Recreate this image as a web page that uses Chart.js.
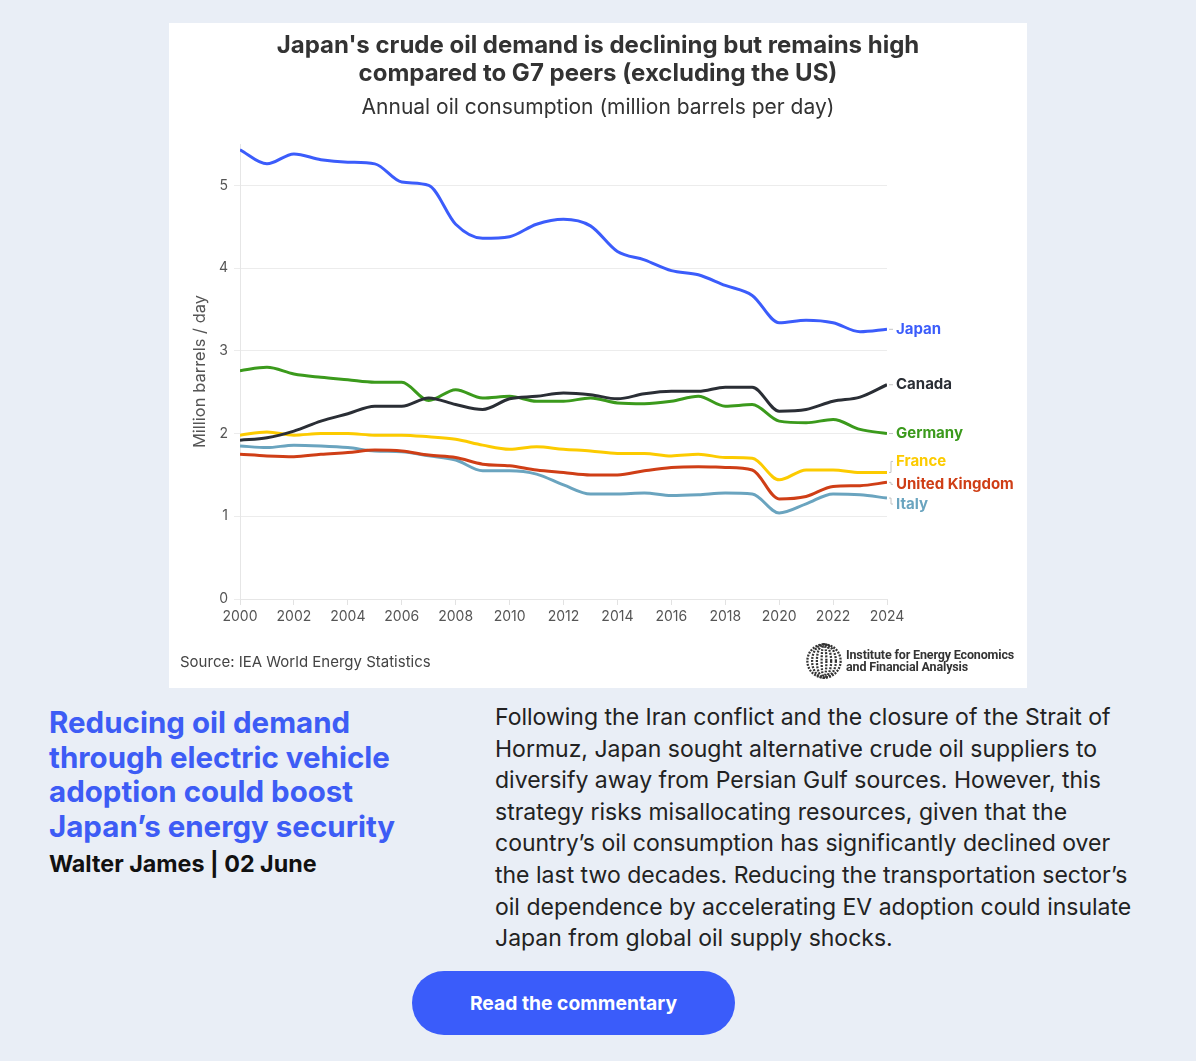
<!DOCTYPE html>
<html>
<head>
<meta charset="utf-8">
<script src="https://cdn.jsdelivr.net/npm/chart.js@4.4.1/dist/chart.umd.min.js"></script>
<style>
  body { margin: 0; width: 1196px; height: 1061px; background: #e9eef6; font-family: Inter, "Noto Sans", sans-serif; position: relative; overflow: hidden; }
  .card { position: absolute; left: 169px; top: 23px; width: 858px; height: 665px; background: #fff; }
  .chart-box { position: absolute; left: 0; top: 0; width: 858px; height: 640px; }
  .title { position: absolute; left: 0; top: 8px; width: 858px; text-align: center; font-size: 24px; line-height: 28px; font-weight: 700; color: #333; }
  .subtitle { position: absolute; left: 0; top: 71px; width: 858px; text-align: center; font-size: 21px; line-height: 26px; color: #333; }
  .source { position: absolute; left: 11px; top: 629px; font-size: 15px; color: #444; }
  .logo { position: absolute; left: 636px; top: 619px; width: 38px; height: 38px; }
  .logo-text { position: absolute; left: 677px; top: 626px; font-family: Roboto, sans-serif; font-weight: 700; font-size: 12.5px; line-height: 12px; color: #333; letter-spacing: -0.15px; }
  .headline { position: absolute; left: 49px; top: 705px; font-size: 29.5px; line-height: 34.5px; font-weight: 700; color: #3d5cf5; }
  .byline { position: absolute; left: 49px; top: 849px; font-size: 23.3px; font-weight: 700; color: #111; }
  .blurb { position: absolute; left: 495px; top: 702px; font-size: 23px; line-height: 31.6px; color: #222; white-space: nowrap; }
  .btn { position: absolute; left: 412px; top: 971px; width: 323px; height: 64px; border-radius: 32px; background: #3a5cfa; color: #fff; font-weight: 700; font-size: 19.3px; display: flex; align-items: center; justify-content: center; }
</style>
</head>
<body>
<div class="card">
  <div class="chart-box"><canvas id="myChart"></canvas></div>
  <div class="title">Japan's crude oil demand is declining but remains high<br>compared to G7 peers (excluding the US)</div>
  <div class="subtitle">Annual oil consumption (million barrels per day)</div>
  <div class="source">Source: IEA World Energy Statistics</div>
  <svg class="logo" viewBox="0 0 40 40">
    <g fill="none" stroke="#333" stroke-width="2.4" stroke-dasharray="2 1.3">
      <ellipse cx="20" cy="20" rx="17.5" ry="17.5"/>
      <ellipse cx="20" cy="20" rx="12.5" ry="17.5"/>
      <ellipse cx="20" cy="20" rx="7.5" ry="17.5"/>
      <ellipse cx="20" cy="20" rx="2.5" ry="17.5"/>
    </g>
  </svg>
  <div class="logo-text">Institute for Energy Economics<br>and Financial Analysis</div>
</div>

<div class="headline">Reducing oil demand<br>through electric vehicle<br>adoption could boost<br>Japan’s energy security</div>
<div class="byline">Walter James | 02 June</div>
<div class="blurb">Following the Iran conflict and the closure of the Strait of<br>Hormuz, Japan sought alternative crude oil suppliers to<br>diversify away from Persian Gulf sources. However, this<br>strategy risks misallocating resources, given that the<br>country’s oil consumption has significantly declined over<br>the last two decades. Reducing the transportation sector’s<br>oil dependence by accelerating EV adoption could insulate<br>Japan from global oil supply shocks.</div>
<div class="btn">Read the commentary</div>

<script>
const years = [2000, 2001, 2002, 2003, 2004, 2005, 2006, 2007, 2008, 2009, 2010, 2011, 2012,
               2013, 2014, 2015, 2016, 2017, 2018, 2019, 2020, 2021, 2022, 2023, 2024];

const japan   = [5.43, 5.26, 5.38, 5.31, 5.28, 5.26, 5.04, 5.00, 4.53, 4.36, 4.38, 4.53, 4.59,
                 4.51, 4.20, 4.10, 3.97, 3.92, 3.79, 3.67, 3.34, 3.37, 3.34, 3.23, 3.26];
const canada  = [1.92, 1.95, 2.03, 2.15, 2.24, 2.33, 2.33, 2.43, 2.35, 2.29, 2.42, 2.45, 2.49,
                 2.47, 2.42, 2.48, 2.51, 2.51, 2.56, 2.56, 2.27, 2.29, 2.39, 2.44, 2.59];
const germany = [2.76, 2.80, 2.72, 2.68, 2.65, 2.62, 2.62, 2.40, 2.53, 2.43, 2.45, 2.39, 2.39,
                 2.43, 2.37, 2.36, 2.39, 2.45, 2.33, 2.35, 2.15, 2.13, 2.17, 2.05, 2.00];
const france  = [1.98, 2.02, 1.98, 2.00, 2.00, 1.98, 1.98, 1.96, 1.93, 1.86, 1.81, 1.84, 1.81,
                 1.79, 1.76, 1.76, 1.73, 1.75, 1.71, 1.70, 1.44, 1.56, 1.56, 1.53, 1.53];
const uk      = [1.75, 1.73, 1.72, 1.75, 1.77, 1.80, 1.79, 1.74, 1.71, 1.63, 1.61, 1.56, 1.53,
                 1.50, 1.50, 1.55, 1.59, 1.60, 1.59, 1.56, 1.21, 1.24, 1.36, 1.37, 1.41];
const italy   = [1.85, 1.83, 1.86, 1.85, 1.83, 1.79, 1.78, 1.73, 1.68, 1.55, 1.55, 1.51, 1.38,
                 1.27, 1.27, 1.28, 1.25, 1.26, 1.28, 1.27, 1.04, 1.15, 1.27, 1.26, 1.22];

const xTicks = [2000, 2002, 2004, 2006, 2008, 2010, 2012, 2014, 2016, 2018, 2020, 2022, 2024];
const yTicks = [0, 1, 2, 3, 4, 5];

// label nudges so the three small series don't overlap at the right edge
const labelShift = { 'France': -11, 'United Kingdom': 2, 'Italy': 6 };

function series(label, values, color) {
    return {
        label: label,
        data: years.map((yr, i) => ({ x: yr, y: values[i] })),
        borderColor: color,
        borderWidth: 3,
        pointRadius: 0,
        cubicInterpolationMode: 'monotone'
    };
}

const endLabels = {
    id: 'endLabels',
    afterDatasetsDraw(chart) {
        const ctx = chart.ctx;
        ctx.save();
        ctx.font = 'bold 15px Inter';
        ctx.textBaseline = 'middle';
        chart.data.datasets.forEach((ds, i) => {
            const pts = chart.getDatasetMeta(i).data;
            const p = pts[pts.length - 1];
            const ly = p.y + (labelShift[ds.label] || 0);
            ctx.strokeStyle = '#c4c4c4';
            ctx.lineWidth = 1;
            ctx.beginPath();
            ctx.moveTo(p.x + 2, p.y);
            ctx.lineTo(p.x + 4, p.y);
            ctx.lineTo(p.x + 4, ly);
            ctx.lineTo(p.x + 6, ly);
            ctx.stroke();
            ctx.fillStyle = ds.borderColor;
            ctx.fillText(ds.label, p.x + 9, ly);
        });
        ctx.restore();
    }
};

Chart.defaults.font.family = 'Inter, "Noto Sans", sans-serif';

const ctx = document.getElementById('myChart');

new Chart(ctx, {
    type: 'line',
    data: {
        datasets: [
            series('Japan', japan, '#3b5cfb'),
            series('Canada', canada, '#2a2e35'),
            series('Germany', germany, '#3b9a1c'),
            series('France', france, '#fccb00'),
            series('United Kingdom', uk, '#cf3e16'),
            series('Italy', italy, '#6aa4bf')
        ]
    },
    options: {
        responsive: true,
        maintainAspectRatio: false,
        animation: false,
        layout: {
            padding: { top: 121, left: 21, right: 140, bottom: 0 }
        },
        scales: {
            x: {
                type: 'linear',
                min: 2000,
                max: 2024,
                afterBuildTicks: (scale) => { scale.ticks = xTicks.map(v => ({ value: v })); },
                afterFit: (scale) => { scale.height = 64; },
                grid: {
                    drawOnChartArea: false,
                    tickLength: 6,
                    color: '#e2e2e2'
                },
                border: { color: '#e6e6e6' },
                ticks: {
                    color: '#555',
                    padding: 3,
                    maxRotation: 0,
                    font: { size: 14 },
                    callback: (v) => String(v)
                }
            },
            y: {
                min: 0,
                max: 5.5,
                afterBuildTicks: (scale) => { scale.ticks = yTicks.map(v => ({ value: v })); },
                afterFit: (scale) => { scale.width = 50; },
                grid: {
                    color: '#ececec',
                    tickLength: 6
                },
                border: { color: '#e6e6e6' },
                ticks: {
                    color: '#555',
                    padding: 6,
                    font: { size: 14 }
                },
                title: {
                    display: true,
                    text: 'Million barrels / day',
                    color: '#555',
                    font: { size: 16.5 },
                    padding: 0
                }
            }
        },
        plugins: {
            legend: { display: false },
            tooltip: { enabled: false }
        }
    },
    plugins: [endLabels]
});
</script>
</body>
</html>
